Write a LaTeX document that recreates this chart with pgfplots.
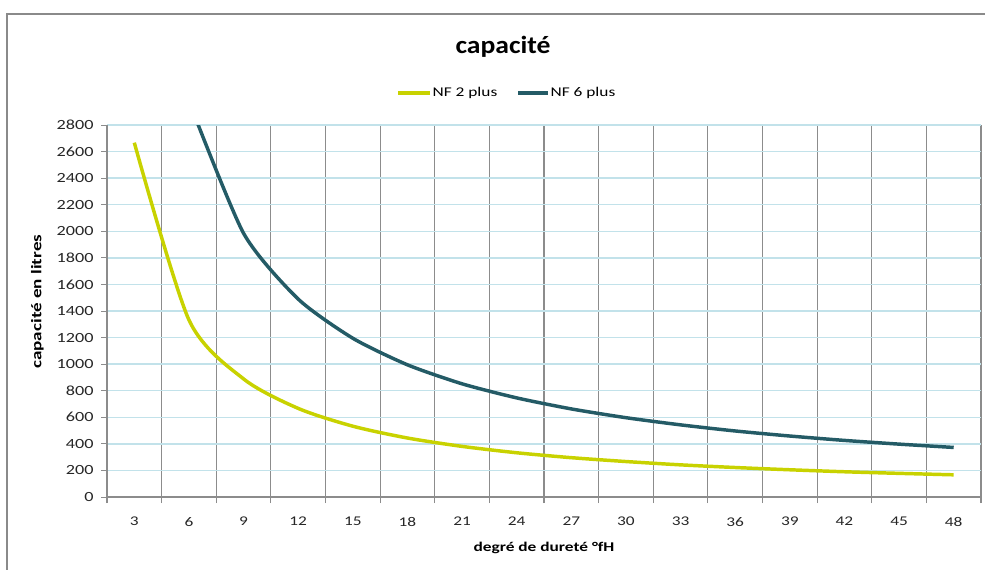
\documentclass[border=0pt]{standalone}
\usepackage{pgfplots}
\pgfplotsset{compat=1.18}
\usepackage{fontspec}
\setmainfont[FakeStretch=1.3]{Carlito}
\newfontfamily\titlefont[FakeStretch=1.12]{Carlito}
\definecolor{nfyellow}{HTML}{C8D200}
\definecolor{nfdark}{HTML}{245B66}
\definecolor{hgrid}{HTML}{C2E2EA}
\definecolor{vgrid}{HTML}{8C8C8C}
\definecolor{framec}{HTML}{8A8A8A}
\begin{document}
\begin{tikzpicture}[x=0.75pt,y=0.75pt]
% pixel (px,py) -> (px-107, 497-py)
\useasboundingbox (-107,-72) rectangle (878,497);
\draw[framec, line width=0.9pt] (-100,-80) -- (-100,483) -- (885,483);
\begin{axis}[
  at={(0,0)}, anchor=origin,
  scale only axis, width=655.5pt, height=279pt,
  xmin=0.5, xmax=16.5, ymin=0, ymax=2800,
  xtick={1,...,16},
  xticklabels={3,6,9,12,15,18,21,24,27,30,33,36,39,42,45,48},
  minor xtick={0.5,1.5,...,16.5},
  xtick style={draw=none},
  minor x tick style={draw=vgrid, line width=0.9pt},
  minor tick length=4.5pt,
  xminorgrids, minor x grid style={draw=vgrid, line width=0.9pt},
  ytick={0,200,...,2800},
  yticklabels={0,200,400,600,800,1000,1200,1400,1600,1800,2000,2200,2400,2600,2800},
  ymajorgrids, major y grid style={draw=hgrid, line width=1.1pt},
  y tick style={draw=vgrid, line width=0.7pt},
  major tick length=4.5pt,
  tick align=outside,
  axis x line*=bottom, axis y line*=left,
  axis line style={draw=vgrid, line width=0.9pt, -},
  ticklabel style={font=\fontsize{10}{12}\selectfont, text=black!85},
  yticklabel style={font=\fontsize{10.5}{12}\selectfont, xshift=-2pt},
  xticklabel style={yshift=-7pt},
  xlabel={\textbf{degré de dureté °fH}},
  xlabel style={font=\fontsize{10}{12}\selectfont, yshift=-5pt},
  ylabel={\textbf{capacité en litres}},
  ylabel style={font=\fontsize{11}{13}\selectfont, yshift=3pt, xshift=7pt},
  clip=true,
]
\addplot[nfyellow, line width=2.6pt, smooth, tension=0.45] coordinates {
(1,2667) (2,1333) (3,889) (4,667) (5,533) (6,444) (7,381) (8,333)
(9,296) (10,267) (11,242) (12,222) (13,205) (14,190) (15,178) (16,167)};
\addplot[nfdark, line width=2.6pt, smooth, tension=0.4] coordinates {
(2,2980) (3,1985) (4,1490) (5,1195) (6,995) (7,852) (8,746) (9,663)
(10,597) (11,543) (12,497) (13,459) (14,426) (15,398) (16,373)};
\end{axis}
% title
\node[font=\titlefont\fontsize{18.5}{22}\selectfont\bfseries] at (396,450) {capacité};
% legend
\draw[nfyellow, line width=2.6pt] (291,404) -- (323,404);
\node[anchor=west, font=\fontsize{10}{12}\selectfont, inner sep=1pt] at (324,404) {NF 2 plus};
\draw[nfdark, line width=2.6pt] (411,404) -- (441,404);
\node[anchor=west, font=\fontsize{10}{12}\selectfont, inner sep=1pt] at (442,404) {NF 6 plus};
\end{tikzpicture}
\end{document}
